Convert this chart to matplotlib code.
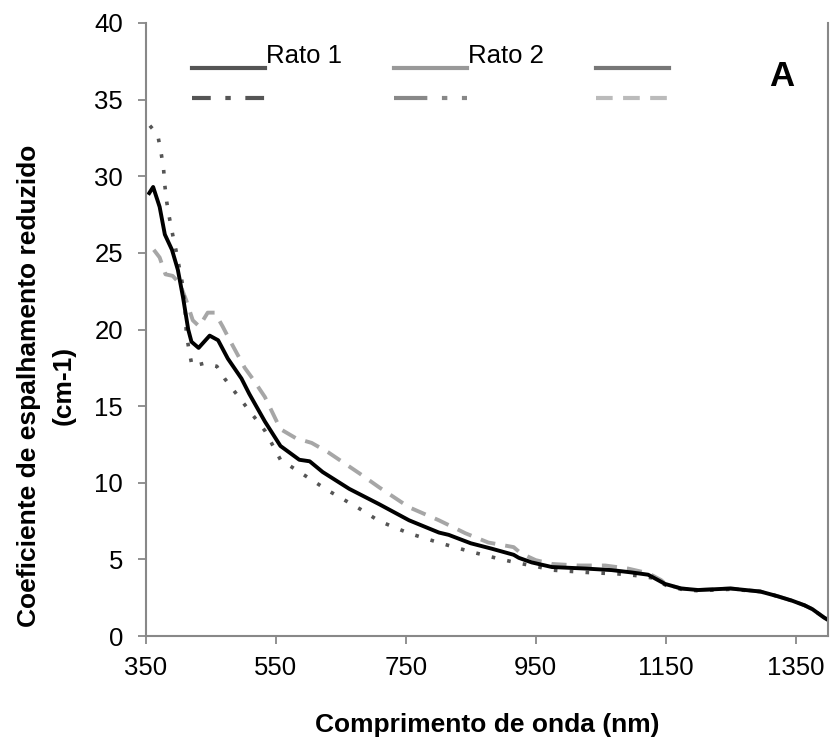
import matplotlib.pyplot as plt
from matplotlib.lines import Line2D
from matplotlib.legend_handler import HandlerLine2D

plt.rcParams['font.family'] = ['Liberation Sans', 'DejaVu Sans']

# Rato 1 (solid black)
wl_1 = [355, 361, 371, 379, 390, 399, 407, 415, 420, 431, 448, 461, 476, 497, 509, 533,
        557, 586, 602, 622, 663, 709, 755, 801, 816, 850, 882, 916, 924, 944, 975, 1027,
        1067, 1097, 1123, 1149, 1174, 1200, 1250, 1296, 1322, 1345, 1364, 1376, 1394, 1400]
val_1 = [28.9, 29.3, 28.0, 26.2, 25.2, 23.9, 22.1, 20.0, 19.2, 18.8, 19.6, 19.3, 18.1, 16.8,
         15.8, 14.0, 12.4, 11.5, 11.4, 10.7, 9.6, 8.6, 7.55, 6.75, 6.6, 6.05, 5.7, 5.3, 5.1,
         4.8, 4.5, 4.4, 4.3, 4.15, 4.0, 3.4, 3.1, 3.0, 3.1, 2.9, 2.6, 2.3, 2.0, 1.75, 1.2, 1.05]

# dotted curve
wl_2 = [356, 368, 373, 377, 379, 382, 386, 391, 396, 401, 406, 409, 411, 412, 416, 421,
        440, 459, 471, 500, 533, 557, 590, 630, 679, 709, 755, 804, 850, 897, 924, 950,
        975, 1027, 1077, 1103, 1128, 1151, 1174, 1200, 1250, 1296, 1322, 1345, 1364, 1376,
        1394, 1400]
val_2 = [33.3, 32.7, 31.6, 30.5, 29.4, 28.3, 27.3, 26.2, 25.2, 24.1, 23.0, 21.9, 20.8, 19.8,
         18.7, 17.6, 17.8, 17.6, 16.8, 15.2, 13.4, 11.5, 10.6, 9.5, 8.3, 7.5, 6.7, 6.05, 5.5,
         5.0, 4.75, 4.55, 4.3, 4.15, 4.05, 3.95, 3.8, 3.3, 3.05, 2.95, 3.05, 2.9, 2.6, 2.3,
         2.0, 1.75, 1.2, 1.05]

# dashed curve
wl_3 = [362, 371, 380, 391, 402, 412, 422, 432, 445, 456, 468, 479, 502, 514, 533, 557,
        581, 605, 630, 679, 709, 755, 801, 842, 877, 916, 927, 950, 975, 1016, 1057, 1092,
        1123, 1143, 1151, 1174, 1200, 1250, 1296, 1322, 1345, 1364, 1376, 1394, 1400]
val_3 = [25.2, 24.7, 23.6, 23.5, 23.0, 21.9, 20.6, 20.2, 21.1, 21.1, 20.2, 19.3, 17.5, 16.8,
         15.6, 13.5, 12.9, 12.6, 12.0, 10.6, 9.7, 8.4, 7.55, 6.7, 6.1, 5.8, 5.4, 4.95, 4.7,
         4.6, 4.6, 4.4, 4.1, 3.65, 3.35, 3.1, 3.0, 3.1, 2.9, 2.6, 2.3, 2.0, 1.75, 1.2, 1.05]

x_ticks = [350, 550, 750, 950, 1150, 1350]
y_ticks = [0, 5, 10, 15, 20, 25, 30, 35, 40]


class LowLine(HandlerLine2D):
    # put the legend sample on the text baseline, like Excel does
    def create_artists(self, legend, orig_handle, xdescent, ydescent, width, height,
                       fontsize, trans):
        return super().create_artists(legend, orig_handle, xdescent, ydescent + 1.1 * fontsize,
                                      width, height, fontsize, trans)


fig = plt.figure(figsize=(8.31, 7.42), dpi=100)
ax = fig.add_axes([146 / 831, 1 - 636 / 742, (828 - 146) / 831, (636 - 23) / 742])

ax.plot(wl_3, val_3, color='#a6a6a6', lw=2.8, ls=(0, (3.9, 2.6)))
ax.plot(wl_2, val_2, color='#555555', lw=2.6, ls=(0, (1, 3.4)))
ax.plot(wl_1, val_1, color='black', lw=2.8)

ax.set_xlim(350, 1400)
ax.set_ylim(0, 40)
ax.set_xticks(x_ticks)
ax.set_yticks(y_ticks)
ax.tick_params(labelsize=18.5, color='#888888', length=5.5, width=1.3)
ax.tick_params(axis='x', pad=9)
ax.tick_params(axis='y', pad=11)
for s in ['left', 'bottom', 'right']:
    ax.spines[s].set_color('#888888')
    ax.spines[s].set_linewidth(1.5)
ax.spines['top'].set_visible(False)

ax.set_xlabel('Comprimento de onda (nm)', fontsize=19, fontweight='bold', labelpad=24)
ax.set_ylabel('Coeficiente de espalhamento reduzido\n(cm-1)', fontsize=19,
              fontweight='bold', linespacing=1.6)
ax.yaxis.set_label_coords(-0.1026, 0.408)

# Excel-like legend with six entries, only two labelled
handles = [
    Line2D([], [], color='#555555', lw=3),
    Line2D([], [], color='#555555', lw=3, ls=(0, (4.5, 3.5, 1.3, 3.5))),
    Line2D([], [], color='#999999', lw=3),
    Line2D([], [], color='#888888', lw=3, ls=(0, (8, 3.5, 1.3, 3.5, 1.3, 3.5))),
    Line2D([], [], color='#777777', lw=3),
    Line2D([], [], color='#bbbbbb', lw=3, ls=(0, (4, 2.5))),
]
labels = ['Rato 1', ' ', 'Rato 2', ' ', ' ', ' ']
leg = ax.legend(handles, labels, ncol=3, loc='upper left', bbox_to_anchor=(0.0674, 0.966),
                frameon=False, fontsize=18.5, handlelength=2.84, handletextpad=0.06,
                columnspacing=2.0, labelspacing=0.25, borderpad=0, borderaxespad=0,
                handler_map={Line2D: LowLine()})

ax.text(0.9326, 0.912, 'A', transform=ax.transAxes, fontsize=25, fontweight='bold',
        ha='center', va='center')

fig.savefig('out.png', dpi=100)
